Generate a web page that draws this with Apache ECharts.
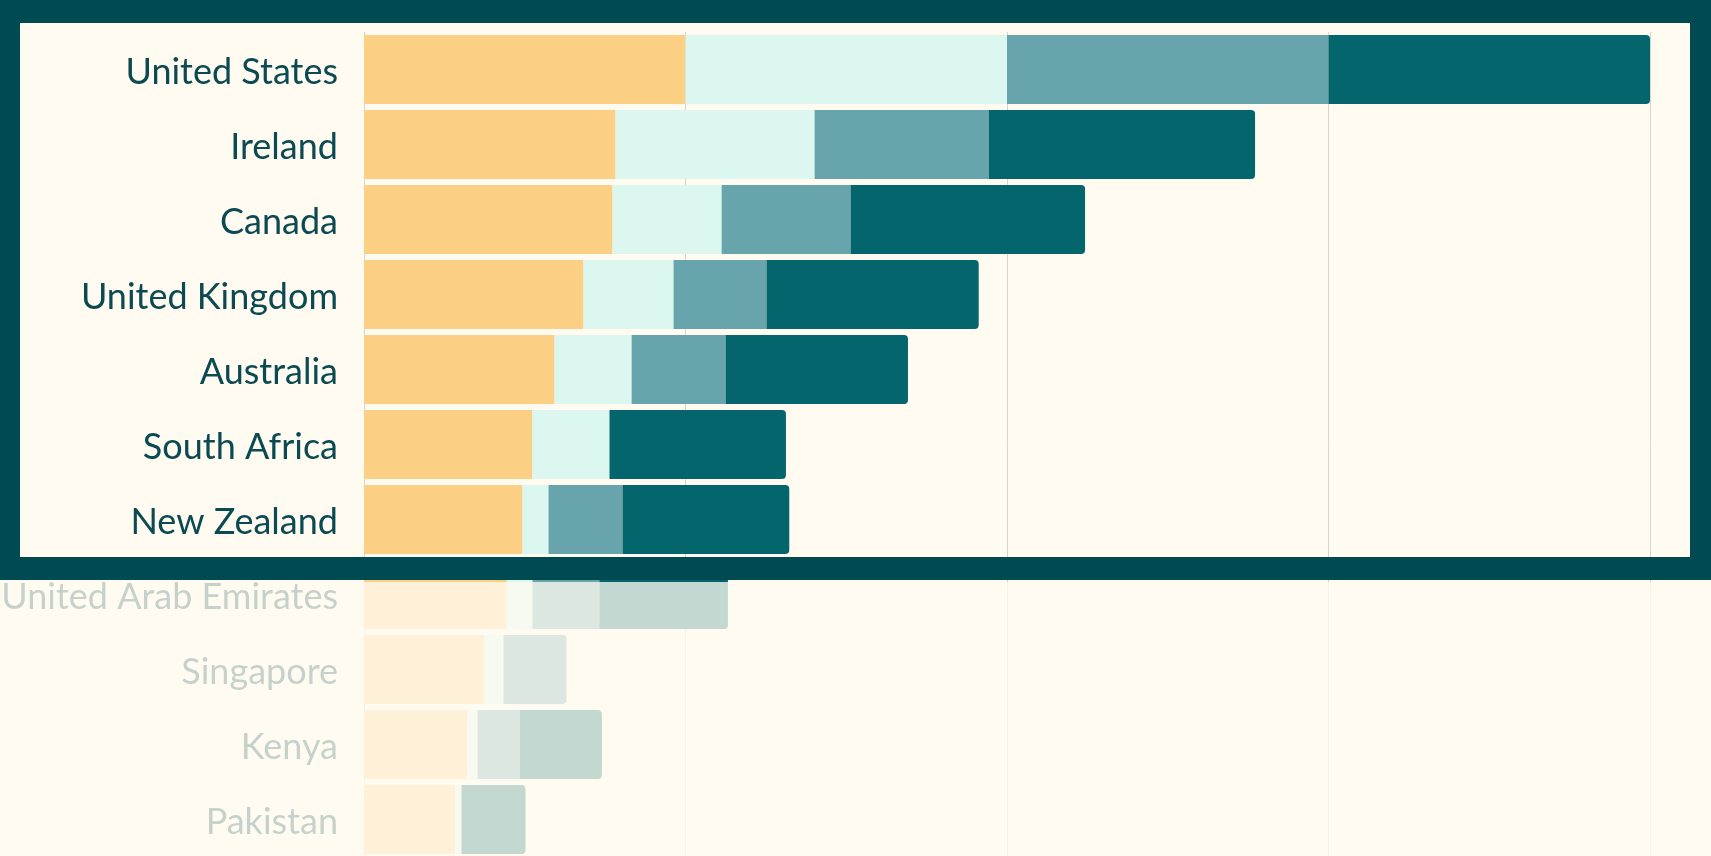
<!DOCTYPE html>
<html>
<head>
<meta charset="utf-8">
<script src="https://cdn.jsdelivr.net/npm/echarts@6/dist/echarts.min.js"></script>
<style>
html,body{margin:0;padding:0;background:#fffbf0;}
#chart{width:1711px;height:856px;}
</style>
</head>
<body>
<div id="chart"></div>
<script>
const categories = ["United States","Ireland","Canada","United Kingdom","Australia","South Africa","New Zealand","United Arab Emirates","Singapore","Kenya","Pakistan"];
const seriesNames = ["Segment 1","Segment 2","Segment 3","Segment 4"];
const seg1 = [25, 19.56, 19.33, 17.07, 14.82, 13.1, 12.33, 11.1, 9.33, 8.03, 7.1];
const seg2 = [25, 15.48, 8.48, 7.0, 5.99, 5.99, 2.02, 2.0, 1.52, 0.8, 0.48];
const seg3 = [25, 13.54, 10.03, 7.23, 7.31, 0, 5.75, 5.2, 4.9, 3.27, 0];
const seg4 = [25, 20.71, 18.23, 16.5, 14.18, 13.72, 12.97, 10.0, 0, 6.4, 4.98];
const axisTicks = [0, 25, 50, 75, 100];

const colors = ["#fbd084","#dcf7f0","#68a4ab","#04656d"];
const all = [seg1, seg2, seg3, seg4];

const series = all.map((arr, si) => ({
  name: seriesNames[si],
  type: 'bar',
  stack: 'total',
  barCategoryGap: '8%',
  itemStyle: { color: colors[si] },
  emphasis: { disabled: true },
  data: arr.map((v, ci) => {
    let last = -1;
    for (let k = 0; k < all.length; k++) if (all[k][ci] > 0) last = k;
    return last === si ? { value: v, itemStyle: { borderRadius: [0, 4, 4, 0] } } : v;
  })
}));

const chart = echarts.init(document.getElementById('chart'));
chart.setOption({
  backgroundColor: '#fffbf0',
  animation: false,
  grid: { left: 364, width: 1286, top: 32, height: 825, containLabel: false, outerBoundsMode: 'none' },
  xAxis: {
    type: 'value', min: axisTicks[0], max: axisTicks[axisTicks.length - 1], interval: 25,
    axisLabel: { show: false }, axisTick: { show: false }, axisLine: { show: false },
    splitLine: { show: true, lineStyle: { color: '#d2d6ce', width: 1 } }
  },
  yAxis: {
    type: 'category', inverse: true, data: categories,
    axisLine: { show: false }, axisTick: { show: false },
    axisLabel: { margin: 26, fontSize: 36, color: '#0b4a52', fontFamily: 'Lato', verticalAlign: 'top', lineHeight: 5 }
  },
  series: series,
  graphic: [
    { type: 'rect', z: 100, shape: { x: 0, y: 582, width: 1711, height: 274 }, style: { fill: 'rgba(255,251,240,0.765)' }, silent: true },
    { type: 'rect', z: 101, shape: { x: 0, y: 0, width: 1711, height: 23 }, style: { fill: '#004a52' }, silent: true },
    { type: 'rect', z: 101, shape: { x: 0, y: 557, width: 1711, height: 23 }, style: { fill: '#004a52' }, silent: true },
    { type: 'rect', z: 101, shape: { x: 0, y: 0, width: 20, height: 580 }, style: { fill: '#004a52' }, silent: true },
    { type: 'rect', z: 101, shape: { x: 1690, y: 0, width: 21, height: 580 }, style: { fill: '#004a52' }, silent: true }
  ]
});
</script>
</body>
</html>
